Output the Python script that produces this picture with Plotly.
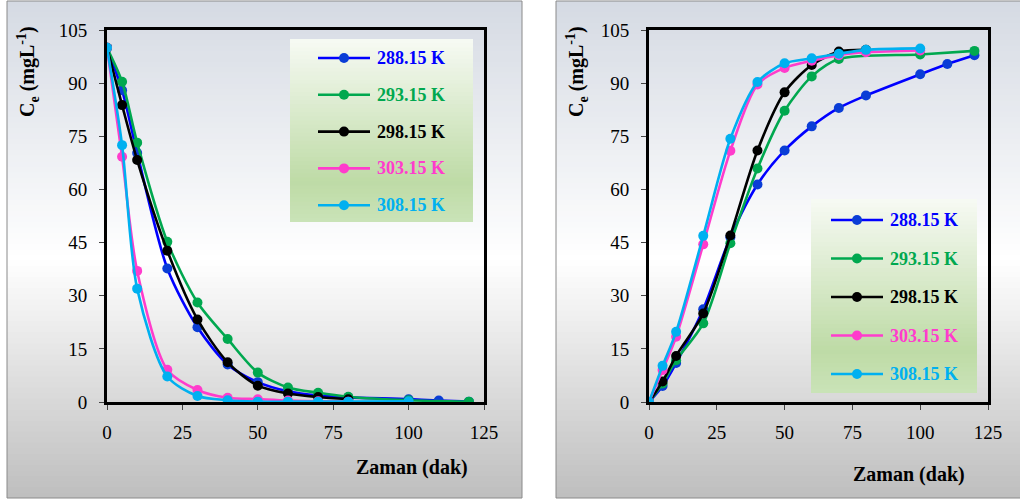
import plotly.graph_objects as go

# ---------------- data ----------------
temps = ["288.15 K", "293.15 K", "298.15 K", "303.15 K", "308.15 K"]
line_colors = ["#0000ff", "#00a84f", "#000000", "#ff3ccc", "#00b0f0"]
marker_colors = ["#0a3dd6", "#00a84f", "#000000", "#ff3ccc", "#00b0f0"]

# left panel: concentration decreasing with time
left_t = [
    [0, 5, 10, 20, 30, 40, 50, 60, 70, 80, 100, 110, 120],
    [0, 5, 10, 20, 30, 40, 50, 60, 70, 80, 100, 120],
    [0, 5, 10, 20, 30, 40, 50, 60, 70, 80],
    [0, 5, 10, 20, 30, 40, 50, 60, 70, 80],
    [0, 5, 10, 20, 30, 40, 50, 60, 70, 80, 100],
]
left_c = [
    [100, 88, 70.3, 37.7, 21.1, 10.6, 5.6, 3.0, 1.8, 1.3, 0.8, 0.4, 0.1],
    [100, 90.4, 73.2, 45.2, 28.1, 17.8, 8.3, 4.1, 2.6, 1.5, 0.5, 0.1],
    [100, 83.8, 68.3, 42.7, 23.3, 11.2, 4.6, 2.4, 1.4, 0.8],
    [100, 69.2, 37.0, 9.1, 3.4, 1.2, 0.8, 0.4, 0.2, 0.1],
    [100, 72.5, 32.0, 7.2, 1.7, 0.5, 0.1, 0.1, 0.1, 0.1, 0.2],
]

# right panel: concentration increasing with time
right_t = [
    [0, 5, 10, 20, 30, 40, 50, 60, 70, 80, 100, 110, 120],
    [0, 5, 10, 20, 30, 40, 50, 60, 70, 100, 120],
    [0, 5, 10, 20, 30, 40, 50, 60, 70, 80],
    [0, 5, 10, 20, 30, 40, 50, 60, 70, 80, 100],
    [0, 5, 10, 20, 30, 40, 50, 60, 70, 80, 100],
]
right_c = [
    [0, 4.5, 11.0, 26.2, 46.5, 61.4, 71.0, 77.8, 83.0, 86.5, 92.5, 95.4, 97.9],
    [0, 5.2, 11.8, 22.2, 44.8, 65.9, 82.2, 91.9, 96.8, 98.1, 99.1],
    [0, 5.8, 13.0, 25.0, 47.0, 71.0, 87.4, 95.1, 98.9, 99.4],
    [0, 9.0, 18.4, 44.5, 70.9, 89.6, 94.3, 96.3, 97.9, 98.7, 99.2],
    [0, 10.2, 19.8, 46.9, 74.3, 90.3, 95.6, 97.0, 98.3, 99.4, 99.8],
]

x_ticks = [0, 25, 50, 75, 100, 125]
y_ticks = [0, 15, 30, 45, 60, 75, 90, 105]

# ---------------- layout helpers ----------------
W, H = 1020, 503
SERIF = "Liberation Serif, Tinos, DejaVu Serif, Noto Serif, serif"


def px(x):
    return x / W


def py(y):
    return 1 - y / H


def mix(stops, f):
    for (p0, c0), (p1, c1) in zip(stops[:-1], stops[1:]):
        if p0 <= f <= p1:
            u = (f - p0) / (p1 - p0) if p1 > p0 else 0
            return "rgb(%d,%d,%d)" % tuple(round(a + (b - a) * u) for a, b in zip(c0, c1))
    return "rgb(%d,%d,%d)" % stops[-1][1]


def gradient_rect(x0, y0, x1, y1, stops, n, layer):
    out = []
    h = (y1 - y0) / n
    for i in range(n):
        ya = y0 + i * h
        yb = min(y1, ya + h + 1)
        out.append(dict(type="rect", xref="paper", yref="paper",
                        x0=px(x0), x1=px(x1), y0=py(yb), y1=py(ya),
                        fillcolor=mix(stops, (i + 0.5) / n),
                        line=dict(width=0), layer=layer))
    return out


panel_stops = [(0.0, (213, 218, 227)), (0.52, (255, 255, 255)), (1.0, (190, 190, 190))]
legend_stops = [(0.0, (247, 250, 244)), (0.78, (190, 219, 166)), (1.0, (202, 227, 184))]

shapes = []
shapes += gradient_rect(7, 1, 522, 498, panel_stops, 90, "below")
shapes += gradient_rect(556, 1, 1025, 498, panel_stops, 90, "below")
for x0, x1 in [(7, 522), (556, 1025)]:
    shapes.append(dict(type="rect", xref="paper", yref="paper",
                       x0=px(x0), x1=px(x1), y0=py(498), y1=py(1),
                       line=dict(color="#8a8a8a", width=1), layer="below"))

# legend boxes: (box left, top, right, bottom, key line start, first row y, row step)
legend_boxes = [
    (290, 39, 473, 222, 318, 58, 36.8),
    (811, 199, 977, 393, 831, 220, 38.5),
]
annotations = []
for bx0, by0, bx1, by1, kx, ky, step in legend_boxes:
    shapes += gradient_rect(bx0, by0, bx1, by1, legend_stops, 45, "above")
    for i in range(5):
        yy = ky + i * step
        shapes.append(dict(type="line", xref="paper", yref="paper",
                           x0=px(kx), x1=px(kx + 52), y0=py(yy), y1=py(yy),
                           line=dict(color=line_colors[i], width=2.6), layer="above"))
        shapes.append(dict(type="circle", xref="paper", yref="paper",
                           x0=px(kx + 26 - 5), x1=px(kx + 26 + 5),
                           y0=py(yy + 5), y1=py(yy - 5),
                           fillcolor=marker_colors[i], line=dict(width=0),
                           layer="above"))
        annotations.append(dict(xref="paper", yref="paper", x=px(kx + 57), y=py(yy),
                                xanchor="left", yanchor="middle", showarrow=False,
                                text="<b>%s</b>" % temps[i],
                                font=dict(family=SERIF, size=18, color=line_colors[i])))

fig = go.Figure()

for i in range(5):
    fig.add_trace(go.Scatter(
        x=left_t[i], y=left_c[i], mode="lines+markers", name=temps[i],
        line=dict(color=line_colors[i], width=2.6, shape="spline", smoothing=0.8),
        marker=dict(color=marker_colors[i], size=10),
        xaxis="x", yaxis="y"))
for i in range(5):
    fig.add_trace(go.Scatter(
        x=right_t[i], y=right_c[i], mode="lines+markers", name=temps[i],
        line=dict(color=line_colors[i], width=2.6, shape="spline", smoothing=0.8),
        marker=dict(color=marker_colors[i], size=10),
        xaxis="x2", yaxis="y2"))

axis_common = dict(
    showgrid=False, zeroline=False, showline=True, linecolor="black",
    linewidth=3, mirror=True, ticks="outside", ticklen=5, tickwidth=1,
    tickcolor="#444444", tickfont=dict(family=SERIF, size=19, color="black"),
    automargin=False,
)

fig.update_layout(
    width=W, height=H, autosize=False,
    margin=dict(l=0, r=0, t=0, b=0, autoexpand=False),
    paper_bgcolor="white", plot_bgcolor="#e2efd9",
    font=dict(family=SERIF),
    xaxis=dict(domain=[px(107), px(484)], range=[0, 125], tickvals=x_ticks,
               ticklabelstandoff=6, anchor="y", **axis_common),
    yaxis=dict(domain=[py(402), py(30)], range=[0, 105], tickvals=y_ticks,
               ticklabelstandoff=8, anchor="x", **axis_common),
    xaxis2=dict(domain=[px(649), px(988)], range=[0, 125], tickvals=x_ticks,
                ticklabelstandoff=6, anchor="y2", **axis_common),
    yaxis2=dict(domain=[py(402), py(30)], range=[0, 105], tickvals=y_ticks,
                ticklabelstandoff=8, anchor="x2", **axis_common),
    shapes=shapes,
    showlegend=False,
)

title_font = dict(family=SERIF, size=20, color="black")
y_title = "<b>C<sub>e</sub> (mgL<sup>-1</sup>)</b>"
x_title = "<b>Zaman (dak)</b>"
annotations += [
    dict(x=px(28), y=py(72), text=y_title, textangle=-90),
    dict(x=px(577), y=py(72), text=y_title, textangle=-90),
    dict(x=px(412), y=py(467), text=x_title),
    dict(x=px(909), y=py(474), text=x_title),
]
for a in annotations[-4:]:
    a.update(xref="paper", yref="paper", xanchor="center", yanchor="middle",
             showarrow=False, font=title_font)
fig.update_layout(annotations=annotations)

fig.write_html("out.html")
